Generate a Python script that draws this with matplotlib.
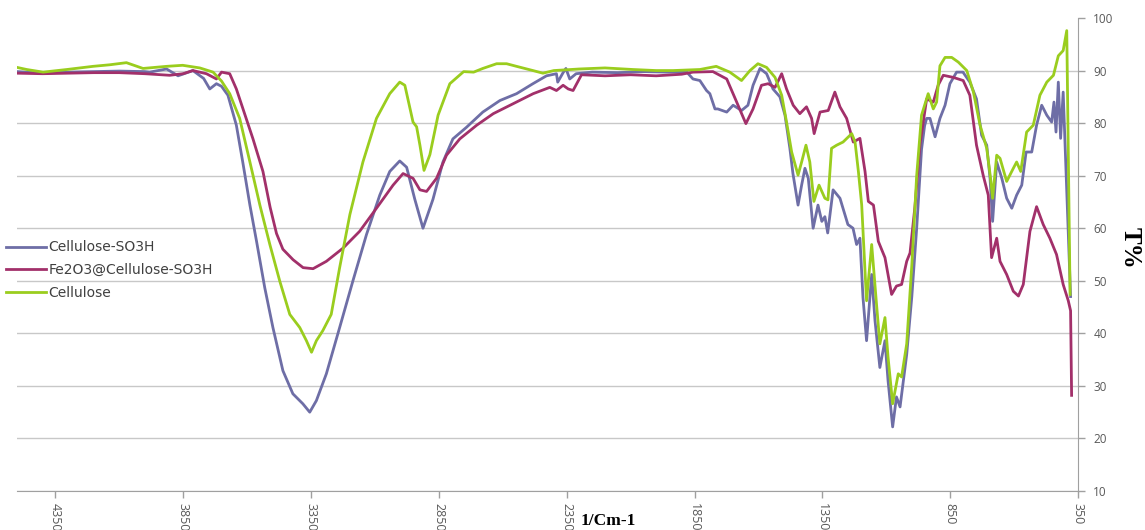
import numpy as np
import matplotlib
matplotlib.use('Agg')
import matplotlib.pyplot as plt

plt.rcParams['font.family'] = ['Open Sans', 'DejaVu Sans']

# Cellulose-SO3H (wavenumber, T%)
so3h_wn = [4500, 4400, 4300, 4200, 4100, 4000, 3981, 3915, 3870, 3812, 3770, 3746, 3720, 3700,
           3675, 3642, 3617, 3589, 3563, 3531, 3499, 3460, 3421, 3382, 3355, 3329, 3290, 3238,
           3186, 3133, 3081, 3042, 3003, 2976, 2944, 2912, 2873, 2834, 2795, 2742, 2678, 2611,
           2546, 2482, 2429, 2390, 2385, 2364, 2353, 2338, 2313, 2250, 2150, 2050, 1950, 1880,
           1856, 1829, 1803, 1790, 1770, 1759, 1724, 1699, 1666, 1641, 1621, 1594, 1568, 1543,
           1516, 1496, 1477, 1465, 1445, 1431, 1418, 1405, 1386, 1367, 1352, 1340, 1329, 1308,
           1281, 1250, 1230, 1216, 1203, 1191, 1177, 1157, 1144, 1125, 1105, 1093, 1075, 1060,
           1046, 1020, 1000, 981, 962, 950, 942, 929, 909, 890, 870, 851, 825, 800, 773, 747,
           727, 707, 694, 684, 668, 648, 629, 609, 590, 570, 553, 531, 512, 492, 472, 453, 444,
           436, 427, 418, 408, 398, 379]
so3h_t = [89.8, 89.5, 89.7, 89.8, 89.9, 89.8, 89.7, 90.3, 89.0, 90.0, 88.5, 86.5, 87.5, 87.0,
          85.3, 79.6, 72.6, 64.4, 57.5, 48.7, 41.1, 32.9, 28.5, 26.6, 25.0, 27.2, 32.3, 41.1,
          50.0, 58.8, 66.3, 70.8, 72.8, 71.6, 65.5, 60.0, 65.5, 72.6, 77.0, 79.2, 82.1, 84.3,
          85.6, 87.5, 89.0, 89.4, 87.8, 89.6, 90.4, 88.4, 89.4, 89.7, 89.6, 89.8, 89.7, 89.7,
          88.4, 88.1, 86.2, 85.6, 82.7, 82.7, 82.1, 83.4, 82.4, 83.4, 87.2, 90.4, 89.4, 86.5,
          85.0, 81.5, 75.2, 70.4, 64.4, 68.2, 71.4, 69.5, 60.0, 64.4, 61.3, 62.2, 59.1, 67.3,
          65.7, 60.7, 60.0, 56.9, 58.1, 46.8, 38.6, 51.2, 42.4, 33.5, 38.6, 31.0, 22.2, 27.9,
          26.0, 36.0, 47.0, 60.0, 75.0, 79.5, 80.9, 80.9, 77.4, 80.9, 83.4, 87.5, 89.7, 89.7,
          87.8, 84.6, 77.7, 75.8, 69.5, 61.3, 72.6, 69.5, 65.7, 63.8, 66.3, 68.2, 74.5, 74.5,
          79.6, 83.4, 81.5, 80.2, 84.0, 78.3, 87.8, 77.1, 85.9, 72.6, 47.0]

# Fe2O3@Cellulose-SO3H
fe_wn = [4500, 4400, 4300, 4200, 4100, 4000, 3903, 3850, 3812, 3759, 3720, 3700, 3668, 3642,
         3616, 3577, 3538, 3510, 3485, 3460, 3420, 3381, 3342, 3290, 3225, 3160, 3094, 3029,
         2990, 2951, 2924, 2898, 2859, 2820, 2768, 2702, 2637, 2559, 2481, 2416, 2390, 2364,
         2344, 2325, 2292, 2200, 2100, 2000, 1900, 1856, 1778, 1751, 1724, 1685, 1649, 1621,
         1588, 1562, 1535, 1509, 1490, 1464, 1438, 1412, 1392, 1382, 1359, 1327, 1301, 1281,
         1255, 1229, 1203, 1183, 1170, 1150, 1131, 1105, 1079, 1060, 1040, 1020, 1007, 988,
         968, 942, 916, 897, 877, 838, 799, 773, 747, 721, 701, 688, 668, 655, 629, 603, 583,
         564, 538, 512, 486, 460, 434, 408, 388, 379, 375]
fe_t = [89.5, 89.4, 89.5, 89.6, 89.6, 89.4, 89.1, 89.4, 90.0, 89.4, 88.4, 89.7, 89.4, 86.5,
        82.7, 77.0, 70.8, 64.0, 59.0, 56.0, 54.0, 52.5, 52.3, 53.7, 56.2, 59.4, 63.8, 68.2,
        70.4, 69.5, 67.3, 67.0, 69.5, 73.9, 77.0, 79.6, 81.8, 83.7, 85.6, 86.8, 86.2, 87.2,
        86.5, 86.2, 89.2, 89.0, 89.2, 89.0, 89.3, 89.7, 89.8, 89.1, 88.4, 84.0, 79.9, 82.7,
        87.2, 87.5, 86.8, 89.4, 86.5, 83.4, 81.8, 83.1, 80.9, 78.0, 82.1, 82.4, 85.9, 83.1,
        80.9, 76.4, 77.1, 70.8, 65.1, 64.4, 57.5, 54.4, 47.4, 49.0, 49.3, 53.7, 55.3, 64.0,
        76.0, 84.6, 84.0, 87.2, 89.1, 88.7, 88.1, 85.3, 75.8, 70.1, 66.3, 54.4, 58.1, 53.7,
        51.2, 48.0, 47.1, 49.3, 59.4, 64.1, 60.7, 58.1, 55.0, 49.3, 46.2, 44.3, 28.2]

# Cellulose
cel_wn = [4500, 4462, 4398, 4305, 4203, 4137, 4072, 4007, 3915, 3852, 3785, 3733, 3700, 3668,
          3629, 3589, 3550, 3511, 3472, 3433, 3394, 3368, 3348, 3329, 3304, 3271, 3238, 3198,
          3147, 3094, 3042, 3003, 2983, 2951, 2937, 2924, 2908, 2885, 2853, 2807, 2753, 2714,
          2678, 2624, 2585, 2546, 2482, 2443, 2400, 2300, 2200, 2091, 2000, 1934, 1829, 1765,
          1712, 1666, 1633, 1602, 1568, 1535, 1509, 1490, 1470, 1445, 1431, 1414, 1399, 1383,
          1363, 1340, 1328, 1314, 1294, 1269, 1235, 1222, 1209, 1196, 1183, 1177, 1157, 1138,
          1125, 1105, 1093, 1075, 1053, 1040, 1020, 1000, 981, 962, 936, 916, 903, 890, 870,
          844, 818, 785, 759, 733, 707, 692, 684, 668, 655, 629, 603, 590, 574, 551, 525, 499,
          472, 446, 427, 408, 394, 388, 381]
cel_t = [90.6, 90.2, 89.7, 90.2, 90.8, 91.1, 91.5, 90.4, 90.8, 91.0, 90.5, 89.7, 88.0, 85.6,
         80.9, 72.6, 64.4, 56.9, 49.9, 43.6, 41.1, 38.6, 36.4, 38.6, 40.5, 43.6, 52.5, 62.6,
         72.6, 80.9, 85.6, 87.8, 87.2, 80.2, 79.3, 75.8, 71.0, 74.0, 81.5, 87.5, 89.8, 89.7,
         90.4, 91.3, 91.3, 90.8, 90.0, 89.5, 90.0, 90.3, 90.5, 90.2, 90.0, 90.0, 90.2, 90.8,
         89.7, 88.1, 90.0, 91.3, 90.6, 88.7, 85.3, 80.2, 74.5, 70.1, 72.6, 75.8, 72.6, 65.1,
         68.2, 65.7, 65.4, 75.2, 75.8, 76.4, 78.0, 76.4, 70.8, 64.4, 51.8, 46.2, 56.9, 45.5,
         38.0, 43.0, 35.5, 26.6, 32.3, 31.7, 38.0, 53.0, 70.0, 81.5, 85.6, 82.7, 84.0, 90.9,
         92.5, 92.5, 91.6, 90.0, 85.9, 79.6, 75.2, 69.5, 65.7, 73.9, 73.3, 68.9, 71.4, 72.6,
         70.8, 78.3, 79.6, 85.3, 87.8, 89.1, 92.8, 93.8, 97.6, 74.5, 47.4]

x_ticks = [4350, 3850, 3350, 2850, 2350, 1850, 1350, 850, 350]
y_ticks = [10, 20, 30, 40, 50, 60, 70, 80, 90, 100]

fig = plt.figure(figsize=(11.45, 5.3), dpi=100)
ax = fig.add_axes([17 / 1145, 1 - 491 / 530, (1078 - 17) / 1145, (491 - 18) / 530])

ax.plot(so3h_wn, so3h_t, color='#6E6EA6', lw=2, label='Cellulose-SO3H')
ax.plot(fe_wn, fe_t, color='#A2306A', lw=2, label='Fe2O3@Cellulose-SO3H')
ax.plot(cel_wn, cel_t, color='#9ACD1E', lw=2, label='Cellulose')

ax.set_xlim(4500, 350)
ax.set_ylim(10, 100)
ax.set_xticks(x_ticks)
ax.set_xticklabels([str(v) for v in x_ticks], rotation=270, fontsize=9, color='#595959')
ax.set_yticks(y_ticks)
ax.set_yticklabels([str(v) for v in y_ticks], fontsize=8.5, color='#595959')
ax.yaxis.tick_right()
ax.tick_params(axis='both', color='#A0A0A0', length=5, width=1)
ax.tick_params(axis='y', pad=6)

ax.grid(axis='y', color='#C8C8C8', lw=1)
ax.yaxis.get_gridlines()[-1].set_visible(False)
ax.set_axisbelow(True)
for s in ['top', 'left']:
    ax.spines[s].set_visible(False)
for s in ['right', 'bottom']:
    ax.spines[s].set_color('#A0A0A0')

leg = fig.legend(loc='center left', bbox_to_anchor=(6 / 1145, 1 - 270 / 530),
                 frameon=False, prop={'family': 'DejaVu Sans', 'size': 10},
                 handlelength=2.9, handletextpad=0.15,
                 labelspacing=0.62, borderpad=0, borderaxespad=0)
for t in leg.get_texts():
    t.set_color('#404040')

fig.text(1130 / 1145, 1 - 248 / 530, 'T%', rotation=270, ha='center', va='center',
         fontsize=18, fontweight='bold', family='Liberation Serif')
fig.text(608 / 1145, 1 - 521 / 530, '1/Cm-1', ha='center', va='center',
         fontsize=12.5, fontweight='bold', family='Liberation Serif')

fig.savefig('out.png', dpi=100)
